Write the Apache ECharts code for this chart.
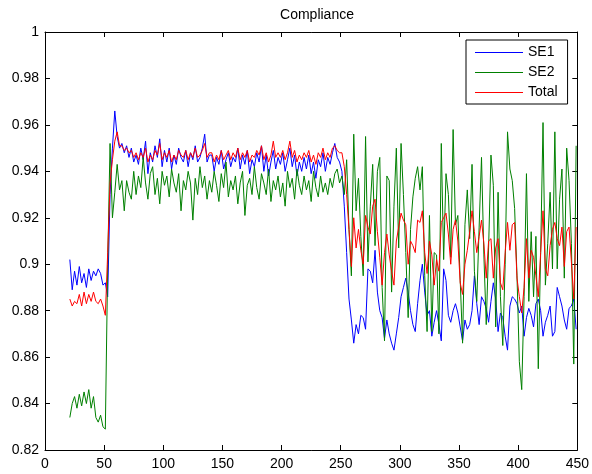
<!DOCTYPE html>
<html>
<head>
<meta charset="utf-8">
<script src="https://cdn.jsdelivr.net/npm/echarts@6/dist/echarts.min.js"></script>
<style>
  html, body { margin: 0; padding: 0; background: #fff; }
  #chart { width: 592px; height: 474px; }
</style>
</head>
<body>
<div id="chart"></div>
<script>
// Sample grid: run index starts at 21, one sample every 2 steps
const xStart = 21;
const xStep = 2;

const xTicks = [0, 50, 100, 150, 200, 250, 300, 350, 400, 450];
const yTicks = [0.82, 0.84, 0.86, 0.88, 0.9, 0.92, 0.94, 0.96, 0.98, 1];

const se1 = [
  0.902, 0.889, 0.897, 0.891, 0.899, 0.892, 0.896, 0.890, 0.898, 0.893, 0.897, 0.895, 0.898, 0.896, 0.891, 0.892,
  0.886, 0.930, 0.950, 0.966,
  0.955, 0.950, 0.952, 0.948, 0.951, 0.946, 0.950, 0.944, 0.947, 0.943,
  0.950, 0.945, 0.953, 0.939, 0.948, 0.944, 0.951, 0.946, 0.954, 0.942,
  0.949, 0.944, 0.950, 0.941, 0.947, 0.943, 0.950, 0.946, 0.944, 0.949,
  0.942, 0.948, 0.945, 0.951, 0.944, 0.946, 0.950, 0.956, 0.944, 0.947,
  0.947, 0.940, 0.946, 0.943, 0.949, 0.941, 0.945, 0.948, 0.942, 0.946,
  0.944, 0.950, 0.941, 0.947, 0.943, 0.949, 0.939, 0.945, 0.942, 0.948,
  0.944, 0.951, 0.940, 0.947, 0.938, 0.944, 0.949, 0.941, 0.946, 0.943,
  0.948, 0.940, 0.945, 0.950, 0.942, 0.947, 0.938, 0.944, 0.940, 0.946,
  0.941, 0.947, 0.939, 0.944, 0.937, 0.945, 0.942, 0.948, 0.940, 0.946,
  0.943, 0.948, 0.952, 0.946, 0.944,
  0.940, 0.925, 0.905, 0.885, 0.876, 0.866, 0.874, 0.870, 0.878, 0.877,
  0.872, 0.898, 0.897, 0.892, 0.906, 0.888, 0.880, 0.877, 0.868, 0.876,
  0.870, 0.866, 0.863, 0.870, 0.877, 0.886, 0.890, 0.894, 0.888, 0.880,
  0.874, 0.871, 0.883, 0.893, 0.900, 0.888, 0.878, 0.880, 0.869, 0.875,
  0.880, 0.874, 0.867, 0.898, 0.893, 0.878, 0.875, 0.880, 0.883, 0.879,
  0.873, 0.867, 0.876, 0.872, 0.874, 0.880, 0.895, 0.883, 0.874, 0.886,
  0.884, 0.881, 0.875, 0.884, 0.892, 0.885, 0.871, 0.879, 0.877, 0.869,
  0.863, 0.882, 0.886, 0.885, 0.883, 0.879, 0.882, 0.869, 0.877, 0.881,
  0.878, 0.873, 0.883, 0.885, 0.880, 0.869, 0.875, 0.878, 0.882, 0.869,
  0.871, 0.890, 0.886, 0.882, 0.876, 0.872, 0.881, 0.882, 0.885, 0.872
];

const se2 = [
  0.834, 0.840, 0.843, 0.838, 0.844, 0.839, 0.845, 0.840, 0.846, 0.838, 0.843, 0.834, 0.832, 0.835, 0.830, 0.829,
  0.900, 0.952, 0.920, 0.931,
  0.943, 0.932, 0.936, 0.923, 0.936, 0.931, 0.928, 0.940, 0.930, 0.938,
  0.933, 0.946, 0.935, 0.928, 0.939, 0.942, 0.930, 0.937, 0.926, 0.940,
  0.934, 0.938, 0.929, 0.941, 0.935, 0.931, 0.939, 0.923, 0.936, 0.932,
  0.940, 0.935, 0.919, 0.937, 0.930, 0.942, 0.933, 0.938, 0.928, 0.936,
  0.931, 0.940, 0.934, 0.927, 0.939, 0.933, 0.944, 0.929, 0.936, 0.932,
  0.938, 0.926, 0.935, 0.940, 0.921, 0.934, 0.937, 0.930, 0.942, 0.933,
  0.928, 0.939, 0.935, 0.930, 0.941, 0.927, 0.936, 0.932, 0.938, 0.929,
  0.935, 0.925, 0.940, 0.933, 0.937, 0.928, 0.941, 0.934, 0.930, 0.938,
  0.932, 0.936, 0.927, 0.940, 0.933, 0.929, 0.938, 0.931, 0.935, 0.930,
  0.937, 0.933, 0.939, 0.941, 0.935,
  0.938, 0.930, 0.945, 0.915, 0.895, 0.956, 0.923, 0.937, 0.912, 0.895,
  0.955, 0.901, 0.925, 0.943, 0.908, 0.940, 0.946, 0.890, 0.867, 0.938,
  0.936, 0.888, 0.925, 0.950, 0.907, 0.952, 0.930, 0.905, 0.877, 0.915,
  0.929, 0.937, 0.942, 0.932, 0.942, 0.895, 0.871, 0.921, 0.871, 0.905,
  0.904, 0.870, 0.952, 0.902, 0.939, 0.930, 0.903, 0.958, 0.917, 0.921,
  0.893, 0.866, 0.917, 0.932, 0.911, 0.943, 0.897, 0.884, 0.916, 0.946,
  0.904, 0.874, 0.907, 0.947, 0.934, 0.873, 0.931, 0.886, 0.865, 0.900,
  0.957, 0.941, 0.936, 0.924, 0.895, 0.858, 0.846, 0.886, 0.939, 0.884,
  0.914, 0.886, 0.912, 0.855, 0.905, 0.961, 0.891, 0.909, 0.931, 0.898,
  0.957, 0.898, 0.928, 0.941, 0.894, 0.950, 0.936, 0.909, 0.857, 0.951
];

const total = [
  0.885, 0.882, 0.884, 0.883, 0.887, 0.882, 0.888, 0.883, 0.887, 0.884, 0.888, 0.884, 0.883, 0.885, 0.882, 0.878,
  0.905, 0.935, 0.945, 0.953,
  0.957, 0.951, 0.951, 0.949, 0.950, 0.948, 0.949, 0.946, 0.948, 0.945,
  0.948, 0.946, 0.950, 0.944, 0.947, 0.945, 0.949, 0.947, 0.952, 0.945,
  0.948, 0.946, 0.949, 0.944, 0.947, 0.945, 0.949, 0.947, 0.946, 0.949,
  0.945, 0.948, 0.946, 0.950, 0.946, 0.947, 0.949, 0.952, 0.946, 0.948,
  0.948, 0.944, 0.947, 0.945, 0.949, 0.945, 0.947, 0.949, 0.945, 0.948,
  0.946, 0.950, 0.945, 0.948, 0.946, 0.949, 0.944, 0.947, 0.946, 0.949,
  0.947, 0.951, 0.945, 0.948, 0.944, 0.947, 0.953, 0.946, 0.948, 0.946,
  0.949, 0.945, 0.948, 0.953, 0.946, 0.949, 0.944, 0.947, 0.945, 0.948,
  0.946, 0.949, 0.944, 0.947, 0.943, 0.948, 0.946, 0.950, 0.945, 0.948,
  0.946, 0.950, 0.951, 0.949, 0.948,
  0.948, 0.942, 0.930, 0.915, 0.899, 0.920, 0.907, 0.915, 0.906, 0.900,
  0.921, 0.916, 0.913, 0.925, 0.928, 0.914, 0.903, 0.891, 0.905, 0.913,
  0.904, 0.897, 0.891, 0.910, 0.916, 0.922, 0.919, 0.917, 0.900, 0.910,
  0.908, 0.905, 0.919, 0.918, 0.923, 0.905, 0.896, 0.910, 0.904, 0.891,
  0.902, 0.897, 0.918, 0.920, 0.922, 0.913, 0.900, 0.915, 0.919, 0.910,
  0.892, 0.887, 0.900, 0.906, 0.914, 0.923, 0.914, 0.905, 0.912, 0.919,
  0.909, 0.894, 0.910, 0.911, 0.894, 0.907, 0.911, 0.892, 0.889, 0.905,
  0.918, 0.906, 0.917, 0.918, 0.894, 0.886, 0.879, 0.890, 0.911, 0.894,
  0.906, 0.903, 0.895, 0.886, 0.905, 0.923, 0.898, 0.895, 0.908, 0.915,
  0.918, 0.911, 0.908, 0.916, 0.899, 0.914, 0.916, 0.901, 0.885, 0.916
];

const seriesNames = ['SE1', 'SE2', 'Total'];
const seriesColors = ['#0000ff', '#008000', '#ff0000'];
const seriesValues = [se1, se2, total];

const font = "'Liberation Sans', Arial, Helvetica, sans-serif";
const ink = '#000000';

function pairs(values) {
  return values.map((v, i) => [xStart + i * xStep, v]);
}

function fmtY(v) {
  return String(parseFloat(Number(v).toFixed(2)));
}

const xMin = xTicks[0], xMax = xTicks[xTicks.length - 1];
const xInterval = xTicks[1] - xTicks[0];
const yMin = yTicks[0], yMax = yTicks[yTicks.length - 1];
const yInterval = 0.02;

function xAxisDef(pos, labels) {
  return {
    type: 'value', position: pos, min: xMin, max: xMax, interval: xInterval,
    axisLine: { show: true, onZero: false, lineStyle: { color: ink, width: 1 } },
    axisTick: { show: true, inside: true, length: 5, lineStyle: { color: ink } },
    axisLabel: { show: labels, color: ink, fontSize: 14, fontFamily: font, margin: 7 },
    splitLine: { show: false }
  };
}
function yAxisDef(pos, labels) {
  return {
    type: 'value', position: pos, min: yMin, max: yMax, interval: yInterval,
    axisLine: { show: true, onZero: false, lineStyle: { color: ink, width: 1 } },
    axisTick: { show: true, inside: true, length: 5, lineStyle: { color: ink } },
    axisLabel: { show: labels, color: ink, fontSize: 14, fontFamily: font, margin: 6, formatter: fmtY },
    splitLine: { show: false }
  };
}

const chart = echarts.init(document.getElementById('chart'), null, { renderer: 'canvas' });
chart.setOption({
  animation: false,
  backgroundColor: '#ffffff',
  title: {
    text: 'Compliance', left: 312, top: 3, textAlign: 'center',
    textStyle: { fontSize: 14, fontWeight: 'normal', color: ink, fontFamily: font }
  },
  grid: { left: 45, right: 14, top: 32, bottom: 24, containLabel: false },
  legend: {
    orient: 'vertical', left: 466, top: 40,
    backgroundColor: '#ffffff', borderColor: ink, borderWidth: 1, borderRadius: 0,
    padding: [5, 10, 4, 9],
    icon: 'rect',
    itemWidth: 48, itemHeight: 1, itemGap: 5,
    textStyle: { fontSize: 14, color: ink, fontFamily: font, lineHeight: 15 },
    data: seriesNames
  },
  xAxis: [xAxisDef('bottom', true), xAxisDef('top', false)],
  yAxis: [yAxisDef('left', true), yAxisDef('right', false)],
  series: seriesNames.map((name, k) => ({
    name: name,
    type: 'line',
    xAxisIndex: 0,
    yAxisIndex: 0,
    data: pairs(seriesValues[k]),
    symbol: 'none',
    showSymbol: false,
    lineStyle: { color: seriesColors[k], width: 1 },
    itemStyle: { color: seriesColors[k] },
    z: 2 + k
  }))
});
</script>
</body>
</html>
